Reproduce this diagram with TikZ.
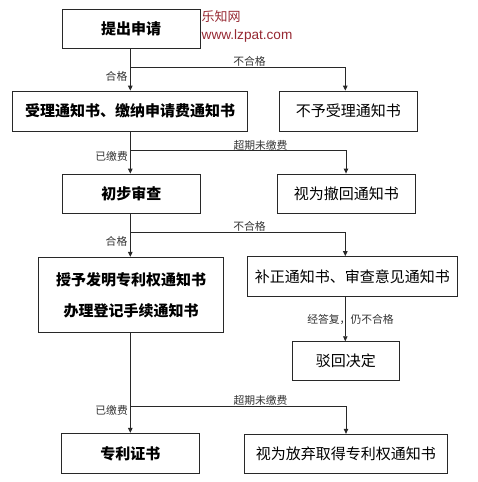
\documentclass[tikz,border=0pt]{standalone}
\usepackage{fontspec}
\newfontfamily\cjk{Noto Sans CJK SC}
\newfontfamily\wmfont{Liberation Sans}
\usetikzlibrary{arrows.meta}
\definecolor{wmred}{RGB}{150,40,50}
\definecolor{ln}{RGB}{40,40,40}
\tikzset{
  box/.style={draw=ln,line width=0.9pt,rectangle,inner sep=0pt,align=center,font=\cjk\fontsize{15}{18}\selectfont},
  boldbox/.style={box,font=\cjk\bfseries\fontsize{15}{18}\selectfont},
  arr/.style={draw=ln,line width=0.9pt,-{Triangle[length=5pt,width=4.5pt]}},
  ln/.style={draw=ln,line width=0.9pt},
  lbl/.style={font=\cjk\fontsize{10.8}{12}\selectfont,text=black!80,inner sep=0pt}
}
\begin{document}
\begin{tikzpicture}[x=1pt,y=-1pt]
\useasboundingbox (0,0) rectangle (477,482);
% boxes
\node[boldbox,minimum width=138pt,minimum height=39pt] (a) at (131,28.8) {提出申请};
\node[boldbox,minimum width=234.6pt,minimum height=40.3pt] (b) at (130,111.2) {受理通知书、缴纳申请费通知书};
\node[box,minimum width=138pt,minimum height=40.3pt] (c) at (348.3,111.2) {不予受理通知书};
\node[boldbox,minimum width=138pt,minimum height=39.3pt] (d) at (131.3,193.7) {初步审查};
\node[box,minimum width=138pt,minimum height=39.3pt] (e) at (346.3,193.7) {视为撤回通知书};
\node[boldbox,minimum width=184.6pt,minimum height=75pt,font=\cjk\bfseries\fontsize{15}{31}\selectfont] (f) at (131,294.8) {授予发明专利权通知书\\办理登记手续通知书};
\node[box,minimum width=210pt,minimum height=39.3pt] (g) at (352.3,276.3) {补正通知书、审查意见通知书};
\node[box,minimum width=107pt,minimum height=38.6pt] (h) at (345.8,361) {驳回决定};
\node[boldbox,minimum width=138pt,minimum height=40pt] (i) at (130.3,453.3) {专利证书};
\node[box,minimum width=203pt,minimum height=39pt] (j) at (345.8,453.8) {视为放弃取得专利权通知书};
% watermark
\node[anchor=west,inner sep=0pt,text=wmred,font=\cjk\fontsize{13}{15}\selectfont] (wm1) at (201.5,16.5) {乐知网};
\node[anchor=west,inner sep=0pt,text=wmred,font=\wmfont\fontsize{13.6}{15}\selectfont] (wm2) at (201.5,36) {www.lzpat.com};
% coordinates
\coordinate (mx) at (130.3,0);
\coordinate (r1) at (345.3,0);
\coordinate (r2) at (346,0);
\coordinate (j1) at (130.3,67.3);
\coordinate (j2) at (130.3,150.3);
\coordinate (j3) at (130.3,232);
\coordinate (j4) at (130.3,406.3);
% main line
\draw[arr] (a.south -| mx) -- (b.north -| mx);
\draw[arr] (b.south -| mx) -- (d.north -| mx);
\draw[arr] (d.south -| mx) -- (f.north -| mx);
\draw[arr] (f.south -| mx) -- (i.north -| mx);
% branches
\draw[arr] (j1) -| (c.north -| r1);
\draw[arr] (j2) -| (e.north -| r2);
\draw[arr] (j3) -| (g.north -| r1);
\draw[arr] (g.south -| r1) -- (h.north -| r1);
\draw[arr] (j4) -| (j.north -| r2);
% labels
\node[lbl,anchor=east] (l1) at (127.5,76) {合格};
\node[lbl] (l2) at (249.5,61) {不合格};
\node[lbl] (l3) at (260.5,145) {超期未缴费};
\node[lbl,anchor=east] (l4) at (128,156.7) {已缴费};
\node[lbl] (l5) at (249.5,226.7) {不合格};
\node[lbl,anchor=east] (l6) at (127.5,241) {合格};
\node[lbl] (l7) at (350.5,319.3) {经答复，仍不合格};
\node[lbl] (l8) at (260.5,400) {超期未缴费};
\node[lbl,anchor=east] (l9) at (128,410.7) {已缴费};
\end{tikzpicture}
\end{document}
